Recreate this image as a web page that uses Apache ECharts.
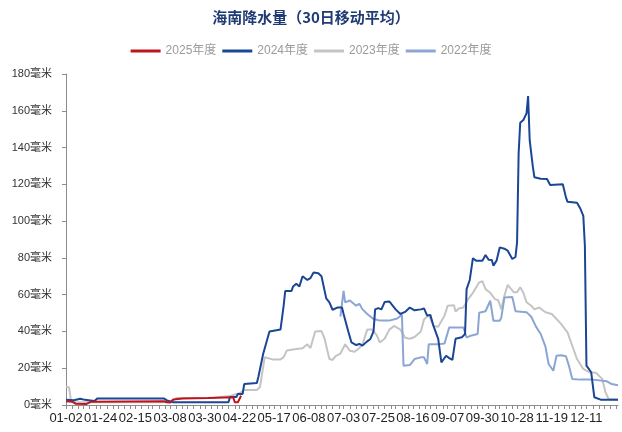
<!DOCTYPE html>
<html>
<head>
<meta charset="utf-8">
<script src="https://cdn.jsdelivr.net/npm/echarts@6/dist/echarts.min.js"></script>
<style>
  html, body { margin: 0; padding: 0; background: #fff; }
  #main { width: 622px; height: 432px; }
</style>
</head>
<body>
<div id="main"></div>
<script>
// 日期（缺少的日子不在横轴上）
var skipDays = ['04-04', '05-01', '05-02', '05-03', '06-10', '06-11', '06-12',
                '09-17', '10-01', '10-02', '10-03', '10-04', '10-05', '10-06'];
var categories = [];
(function () {
    var d = new Date(2024, 0, 2);
    while (d.getFullYear() === 2024) {
        var s = ('0' + (d.getMonth() + 1)).slice(-2) + '-' + ('0' + d.getDate()).slice(-2);
        if (skipDays.indexOf(s) < 0) categories.push(s);
        d.setDate(d.getDate() + 1);
    }
})();

var yTicks = [0, 20, 40, 60, 80, 100, 120, 140, 160, 180];

// [类目序号, 毫米]
var s2025 = [[0,2],[4,1.8],[6,0.7],[13,0.6],[16,1.8],[62,2],[64,1.5],[66,1.5],[68,3],[74,3.5],[90,3.8],
    [106,4.2],[107,1.5],[109,1.5],[111,5]];

var s2024 = [[0,2.8],[5,2.6],[9,3.4],[12,2.8],[18,2.2],[20,3.6],[62,3.6],[64,2.5],[68,1.5],[103,1.5],
    [104,4.3],[108,4.3],[109,6],[112,6],[113,11.4],[121,12],[122,15.4],[125,27.7],[129,40],[136,41],
    [138,54],[139,62],[143,62],[144,64.5],[146,66],[148,64.5],[150,70],[153,68],[155,69],[157,72],
    [160,71.6],[162,70],[165,58],[167,55.8],[169,51.8],[172,53],[175,53],[176,49.5],[179,40],[181,34],
    [184,32.6],[186,33.2],[188,32.3],[191,34.6],[193,35.9],[195,40],[196,52],[198,52.7],[200,52],
    [202,56],[205,56.3],[209,52],[212,49.5],[215,50.6],[218,53],[221,51.5],[225,52],[227,52.5],
    [229,48.6],[231,49],[233,43],[236,36],[238,23.2],[239,23],[241,26.8],[243,25.5],[245,24.5],
    [247,36],[248,36.5],[251,36.8],[253,38.6],[254,63],[256,68],[258,79.8],[260,78.5],[264,78.5],
    [266,81.6],[268,79],[270,78.8],[271,75.8],[273,78.5],[275,85.7],[278,85],[280,84],[283,79.4],
    [285,80.5],[286,88.4],[287,137],[288,153.5],[290,155],[292,158.6],[293,168],[294,144],[296,129.6],
    [297,123.8],[301,123],[305,122.9],[307,119.6],[315,120],[317,112.9],[318,110.5],[324,110],
    [326,107],[328,102.9],[329,86.6],[330,21.4],[331,21],[333,17.8],[335,4.2],[339,2.9],[350,2.9]];

var s2023 = [[0,10],[2,9.5],[3,3],[4,1.5],[64,1.5],[66,1],[70,3.8],[94,4],[95,4.6],[104,4.9],[110,6.4],
    [113,8.2],[121,8.2],[123,9.8],[126,26],[127,27],[131,24.8],[136,24.8],[138,26],[140,29.6],
    [146,30.4],[150,30.8],[153,33],[155,31],[158,40],[162,40.2],[164,35.9],[167,25],[169,24.5],
    [171,26.6],[174,28],[177,33],[180,29.5],[183,29],[186,31],[188,33],[191,41],[194,41],[197,38],
    [199,34],[202,36],[205,41],[208,43],[212,41],[215,36.6],[218,36],[221,37],[225,40],[227,46.5],
    [230,49],[233,43],[236,42.5],[240,48.6],[242,54],[246,54.2],[247,50.8],[249,52.5],[252,53],
    [255,57.6],[258,61],[262,66.7],[264,67.3],[266,63],[269,61],[272,57.6],[274,57],[276,52],
    [278,59.4],[280,65.3],[284,61.3],[286,61.3],[288,64],[290,61],[292,55.9],[295,54],[297,52],
    [300,53],[304,50.4],[308,49.5],[311,46.8],[314,44],[318,39.5],[321,32.2],[324,25],[328,19.6],
    [332,17.8],[336,17.5],[340,14.2],[342,7],[344,3.3],[350,3]];

var s2022 = [[174,48],[176,62],[177,55.8],[180,56.8],[184,54],[186,55],[188,52],[191,49.5],[195,46.8],
    [199,45.9],[205,45.9],[210,47],[213,49],[214,21.3],[218,21.7],[221,25],[225,25.9],[227,25.9],
    [229,22.3],[230,33.1],[237,33.1],[240,33.5],[243,42.2],[252,42.2],[254,36.7],[256,37.5],
    [261,38.6],[262,50.2],[266,51],[269,56.7],[270,56.7],[271,45.8],[275,45.8],[276,47.5],[278,58.5],
    [283,58.7],[285,51],[292,50.5],[295,48],[298,42.6],[301,38.6],[304,31.7],[306,22.3],[309,18.6],
    [311,26.8],[314,27],[317,26.5],[319,21],[321,14.1],[326,13.8],[334,13.8],[343,12.9],[346,11.4],
    [350,10.8]];

var seriesNames = ['2025年度', '2024年度', '2023年度', '2022年度'];
var seriesColors = ['#C0141C', '#1B4595', '#C4C4C4', '#8BA6D3'];
var seriesZ = [6, 5, 2, 3];
var seriesData = [s2025, s2024, s2023, s2022];

var font = '"Liberation Sans", "Noto Sans CJK SC", sans-serif';
var chart = echarts.init(document.getElementById('main'));

chart.setOption({
    animation: false,
    title: {
        text: '海南降水量（30日移动平均）',
        left: 'center',
        top: 5,
        textStyle: { color: '#1F3B73', fontSize: 15, fontWeight: 'bold', fontFamily: '"Noto Sans CJK SC", sans-serif' }
    },
    legend: {
        data: seriesNames,
        top: 40,
        left: 'center',
        icon: 'rect',
        itemWidth: 30,
        itemHeight: 3,
        itemGap: 6,
        textStyle: { color: '#9A9A9A', fontSize: 12, fontFamily: font }
    },
    grid: { left: 66, right: 4, top: 74, bottom: 27 },
    xAxis: {
        type: 'category',
        data: categories,
        boundaryGap: false,
        axisLine: { lineStyle: { color: '#8C8C8C' } },
        axisTick: {
            length: 4,
            lineStyle: { color: '#8C8C8C' },
            interval: function (i) {
                return Math.floor(i * 6 / 22) !== Math.floor((i - 1) * 6 / 22);
            }
        },
        axisLabel: { interval: 21, color: '#222', fontSize: 13, margin: 7, fontFamily: font }
    },
    yAxis: {
        type: 'value',
        min: yTicks[0],
        max: yTicks[yTicks.length - 1],
        interval: 20,
        splitLine: { show: false },
        axisLine: { show: true, lineStyle: { color: '#8C8C8C' } },
        axisTick: { show: true, length: 4, lineStyle: { color: '#8C8C8C' } },
        axisLabel: { color: '#333', fontSize: 11, margin: 14, fontFamily: font, formatter: '{value}毫米' }
    },
    series: seriesNames.map(function (name, k) {
        return {
            name: name,
            type: 'line',
            symbol: 'none',
            data: seriesData[k],
            color: seriesColors[k],
            lineStyle: { width: 2, color: seriesColors[k] },
            z: seriesZ[k]
        };
    })
});
</script>
</body>
</html>
